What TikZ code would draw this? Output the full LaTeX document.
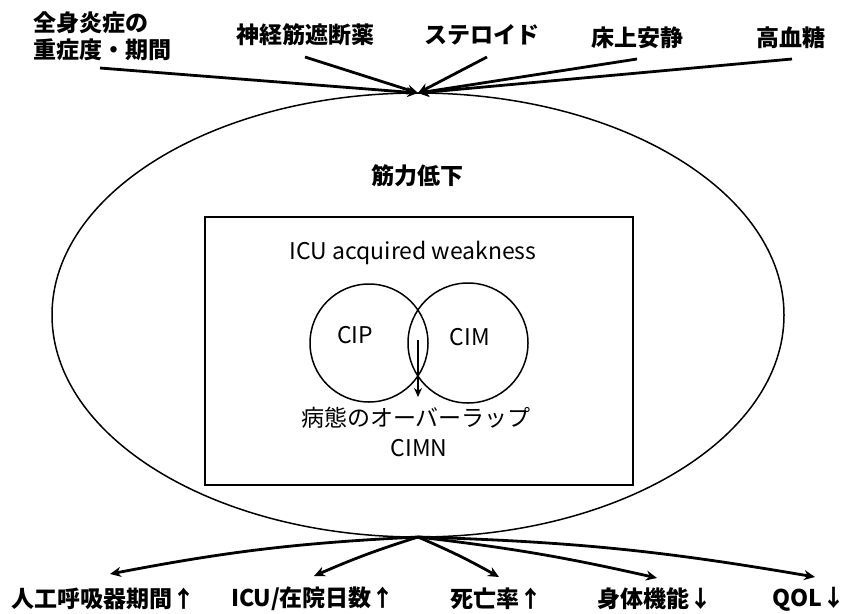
\documentclass[tikz,border=0pt]{standalone}
\usepackage{fontspec}
\setmainfont{Noto Sans CJK JP}
\usetikzlibrary{arrows.meta}
\begin{document}
\begin{tikzpicture}[x=1pt,y=-1pt,
  lbl/.style={inner sep=0pt,font=\fontsize{23}{27}\selectfont\bfseries},
  txt/.style={inner sep=0pt,font=\fontsize{23}{27}\selectfont},
  bigarrow/.style={line width=2.8pt,-{Stealth[length=11pt,width=10pt]}},
  thinarrow/.style={line width=1.6pt,-{Stealth[length=9pt,width=8pt]}}]
\useasboundingbox (0,0) rectangle (845,613);
% ellipse
\draw[line width=1.5pt] (418,315) ellipse [x radius=366, y radius=222];
\draw[line width=2pt] (205,217) rectangle (633,485);
\node[draw,circle,line width=1.5pt,minimum size=118pt,inner sep=0pt] (cip) at (369,343) {};
\node[draw,circle,line width=1.5pt,minimum size=120pt,inner sep=0pt] (cim) at (468,343) {};
% texts
\node[lbl] (kin) at (417,176) {筋力低下};
\node[txt] (icu) at (413,253) {ICU acquired weakness};
\node[txt] (cipt) at (355,335) {CIP};
\node[txt] (cimt) at (470,337) {CIM};
\node[txt] (over) at (416,418) {病態のオーバーラップ};
\node[txt] (cimn) at (419,448) {CIMN};
\coordinate (ovs) at (418,340);
\coordinate (ove) at (418,397);
\draw[thinarrow] (ovs) -- (ove);
% top labels
\node[lbl,align=left,anchor=west] (t1) at (33,36) {全身炎症の\\重症度・期間};
\node[lbl] (t2) at (305,35) {神経筋遮断薬};
\node[lbl] (t3) at (482,35) {ステロイド};
\node[lbl] (t4) at (637,38) {床上安静};
\node[lbl] (t5) at (791,38) {高血糖};
\coordinate (top) at (418,93);
\coordinate (s1) at (100,68);
\coordinate (s2) at (305,57);
\coordinate (s3) at (487,57);
\coordinate (s4) at (637,59);
\coordinate (s5) at (792,59);
\foreach \s in {s1,s2,s3,s4,s5} \draw[bigarrow] (\s) -- (top);
% bottom labels
\node[lbl] (b1) at (103,599) {人工呼吸器期間↑};
\node[lbl] (b2) at (313,599) {ICU/在院日数↑};
\node[lbl] (b3) at (496,599) {死亡率↑};
\node[lbl] (b4) at (655,599) {身体機能↓};
\node[lbl] (b5) at (809,599) {QOL↓};
\coordinate (bot) at (418,537);
\coordinate (e1) at (110,574);
\coordinate (e2) at (314,576);
\coordinate (e3) at (499,577);
\coordinate (e4) at (657,578);
\coordinate (e5) at (815,577);
\draw[bigarrow] (bot) to[bend right=4] (e1);
\draw[bigarrow] (bot) to[bend right=3] (e2);
\draw[bigarrow] (bot) to[bend left=3] (e3);
\draw[bigarrow] (bot) to[bend left=3] (e4);
\draw[bigarrow] (bot) to[bend left=4] (e5);
\end{tikzpicture}
\end{document}
